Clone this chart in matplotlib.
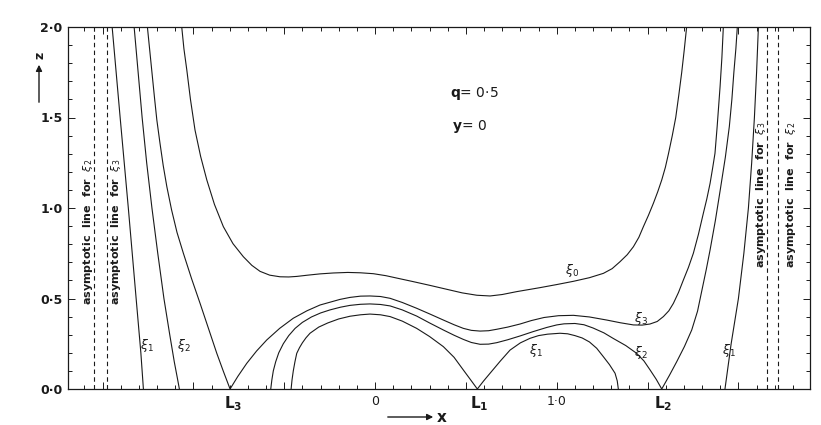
import matplotlib
matplotlib.use('Agg')
import matplotlib.pyplot as plt
from matplotlib.ticker import FixedLocator, FixedFormatter, MultipleLocator

# ---------------- data ----------------
# xi_0 : U-shaped curve
xi0_x = [-1.064, -1.052, -1.036, -1.016, -0.991, -0.960, -0.926, -0.884, -0.835, -0.782,
         -0.725, -0.678, -0.633, -0.580, -0.523, -0.475, -0.431, -0.370, -0.303, -0.230,
         -0.150, -0.080, -0.009, 0.060, 0.119, 0.211, 0.300, 0.394, 0.480, 0.560,
         0.633, 0.700, 0.780, 0.850, 0.908, 1.000, 1.092, 1.180, 1.257, 1.305,
         1.348, 1.388, 1.422, 1.452, 1.477, 1.505, 1.532, 1.556, 1.578, 1.598,
         1.615, 1.636, 1.655, 1.672, 1.688, 1.702, 1.715]
xi0_z = [2.000, 1.880, 1.762, 1.600, 1.431, 1.285, 1.155, 1.020, 0.897, 0.803,
         0.731, 0.683, 0.650, 0.629, 0.620, 0.619, 0.622, 0.629, 0.636, 0.641,
         0.644, 0.642, 0.637, 0.626, 0.613, 0.593, 0.573, 0.551, 0.531, 0.518,
         0.514, 0.522, 0.538, 0.550, 0.560, 0.577, 0.595, 0.615, 0.639, 0.665,
         0.703, 0.742, 0.786, 0.838, 0.897, 0.960, 1.026, 1.090, 1.155, 1.225,
         1.300, 1.400, 1.500, 1.625, 1.750, 1.875, 2.000]

# xi_3 : passes through L3, dips near L1, rises to the right
xi3_x = [-1.253, -1.240, -1.227, -1.214, -1.201, -1.184, -1.166, -1.146, -1.120, -1.090,
         -1.055, -1.010, -0.963, -0.917, -0.871, -0.835, -0.798,
         -0.755, -0.706, -0.652, -0.596, -0.525, -0.450, -0.375, -0.303, -0.193,
         -0.138, -0.080, -0.028, 0.030, 0.083, 0.150, 0.229, 0.300, 0.376, 0.435,
         0.486, 0.530, 0.578, 0.625, 0.670, 0.730, 0.798, 0.860, 0.930, 1.010,
         1.092, 1.180, 1.275, 1.350, 1.422, 1.470, 1.513, 1.553, 1.587, 1.617,
         1.642, 1.670, 1.697, 1.725, 1.752, 1.780, 1.807, 1.826, 1.844, 1.858,
         1.871, 1.883, 1.899, 1.909, 1.917]
xi3_z = [2.000, 1.870, 1.740, 1.610, 1.486, 1.360, 1.235, 1.118, 0.990, 0.865,
         0.750, 0.610, 0.473, 0.335, 0.197, 0.098, 0.000,
         0.070, 0.142, 0.210, 0.271, 0.335, 0.391, 0.432, 0.464, 0.495,
         0.506, 0.513, 0.514, 0.511, 0.501, 0.478, 0.446, 0.415, 0.381, 0.355,
         0.335, 0.324, 0.320, 0.322, 0.330, 0.342, 0.359, 0.378, 0.395, 0.405,
         0.407, 0.398, 0.381, 0.366, 0.354, 0.353, 0.359, 0.373, 0.400, 0.432,
         0.473, 0.533, 0.602, 0.672, 0.750, 0.855, 0.971, 1.050, 1.136, 1.220,
         1.302, 1.450, 1.670, 1.830, 2.000]

# xi_2 : left branch and the branch through L2
xi2_left_x = [-1.326, -1.304, -1.282, -1.257, -1.228, -1.196, -1.162, -1.130, -1.105,
              -1.088, -1.077]
xi2_left_z = [2.000, 1.750, 1.500, 1.250, 1.000, 0.750, 0.500, 0.300, 0.150,
              0.060, 0.000]
xi2_x = [-0.574, -0.568, -0.560, -0.547, -0.530, -0.505, -0.475, -0.440, -0.400, -0.350,
         -0.300, -0.248, -0.190, -0.138, -0.080, -0.028, 0.030, 0.083, 0.150, 0.229,
         0.300, 0.376, 0.435, 0.486, 0.530, 0.578, 0.625, 0.670, 0.730, 0.798,
         0.870, 0.945, 1.000, 1.040, 1.100, 1.150, 1.200, 1.260, 1.310, 1.380,
         1.440, 1.480, 1.514, 1.548, 1.578,
         1.620, 1.660, 1.703, 1.743, 1.775, 1.800, 1.823, 1.844, 1.873, 1.900,
         1.928, 1.950, 1.964, 1.975, 1.986, 1.994]
xi2_z = [0.000, 0.050, 0.100, 0.150, 0.200, 0.250, 0.295, 0.335, 0.368, 0.398,
         0.420, 0.437, 0.452, 0.462, 0.468, 0.470, 0.467, 0.459, 0.437, 0.403,
         0.365, 0.326, 0.297, 0.274, 0.257, 0.247, 0.248, 0.256, 0.272, 0.293,
         0.317, 0.340, 0.354, 0.360, 0.362, 0.355, 0.337, 0.310, 0.280, 0.240,
         0.197, 0.155, 0.105, 0.053, 0.000,
         0.075, 0.150, 0.235, 0.326, 0.430, 0.550, 0.660, 0.768, 0.930, 1.100,
         1.280, 1.450, 1.600, 1.750, 1.880, 2.000]

# xi_1 : left branch, the loop through L1, right branch
xi1_left_x = [-1.447, -1.403, -1.358, -1.315, -1.289, -1.275]
xi1_left_z = [2.000, 1.500, 1.000, 0.500, 0.200, 0.000]
xi1_x = [-0.462, -0.457, -0.450, -0.441, -0.431, -0.416, -0.400, -0.380, -0.358, -0.310,
         -0.260, -0.200, -0.138, -0.080, -0.028, 0.030, 0.083, 0.150, 0.229, 0.300,
         0.376, 0.435, 0.486, 0.525, 0.563,
         0.598, 0.633, 0.690, 0.743, 0.800, 0.853, 0.900, 0.950, 1.018, 1.060,
         1.100, 1.140, 1.180, 1.220, 1.257, 1.290, 1.321, 1.333, 1.339]
xi1_z = [0.000, 0.050, 0.100, 0.150, 0.197, 0.228, 0.255, 0.283, 0.308, 0.342,
         0.365, 0.387, 0.402, 0.410, 0.414, 0.410, 0.400, 0.375, 0.335, 0.290,
         0.234, 0.175, 0.105, 0.052, 0.000,
         0.045, 0.087, 0.155, 0.215, 0.255, 0.280, 0.295, 0.303, 0.308, 0.305,
         0.295, 0.282, 0.260, 0.225, 0.178, 0.135, 0.087, 0.045, 0.000]
xi1_right_x = [1.926, 1.960, 2.000, 2.030, 2.055, 2.073, 2.088, 2.100, 2.110]
xi1_right_z = [0.000, 0.250, 0.500, 0.750, 1.000, 1.250, 1.500, 1.750, 2.000]

# asymptotic lines
asym_x = [-1.545, -1.477, 2.156, 2.216]
asym_names = [r'$\xi_2$', r'$\xi_3$', r'$\xi_3$', r'$\xi_2$']

# Lagrangian points
L_names = [r'$\mathbf{L_3}$', r'$\mathbf{L_1}$', r'$\mathbf{L_2}$']
L_x = [-0.794, 0.563, 1.572]

# ticks
xtick_pos = [-1.5, -1.0, -0.5, 0.0, 0.5, 1.0, 1.5, 2.0]
xtick_labels = ['', '', '', '0', '', '1·0', '', '']
ytick_pos = [0.0, 0.5, 1.0, 1.5, 2.0]
ytick_labels = ['0·0', '0·5', '1·0', '1·5', '2·0']

# curve labels
lab_text = [r'$\xi_1$', r'$\xi_2$', r'$\xi_0$', r'$\xi_3$', r'$\xi_2$', r'$\xi_1$', r'$\xi_1$']
lab_x = [-1.255, -1.051, 1.084, 1.464, 1.464, 0.886, 1.948]
lab_z = [0.238, 0.238, 0.657, 0.392, 0.204, 0.215, 0.210]

# ---------------- figure ----------------
W, H = 821, 425
fig = plt.figure(figsize=(W / 100, H / 100), dpi=100)
ax = fig.add_axes([68 / W, 36 / H, 742 / W, 362 / H])
ax.set_xlim(-1.690, 2.394)
ax.set_ylim(0, 2)

col = '#1a1a1a'
lw = 0.8
for xs, zs in [(xi0_x, xi0_z), (xi3_x, xi3_z), (xi2_left_x, xi2_left_z), (xi2_x, xi2_z),
               (xi1_left_x, xi1_left_z), (xi1_x, xi1_z), (xi1_right_x, xi1_right_z)]:
    ax.plot(xs, zs, color=col, lw=lw, solid_joinstyle='round')

for xa in asym_x:
    ax.plot([xa, xa], [0, 2], color=col, lw=0.8, ls=(0, (4, 3)))

# asymptote texts
asym_text_x = [-1.580, -1.425, 2.124, 2.289]
asym_text_z = [0.464, 0.464, 0.669, 0.669]
for xt, zt, nm in zip(asym_text_x, asym_text_z, asym_names):
    ax.text(xt, zt, 'asymptotic  line  for  ' + nm, rotation=90, ha='center', va='bottom',
            fontsize=8, fontweight='bold', color=col)

for t, x, z in zip(lab_text, lab_x, lab_z):
    ax.text(x, z, t, ha='center', va='center', fontsize=9, color=col)

for nm, x in zip(L_names, L_x):
    ax.text(x + 0.012, -0.083, nm, ha='center', va='center', fontsize=11, color=col,
            clip_on=False)

ax.text(0.413, 1.63, r'$\mathbf{q}$= 0·5', ha='left', va='center', fontsize=10, color=col)
ax.text(0.424, 1.448, r'$\mathbf{y}$= 0', ha='left', va='center', fontsize=10, color=col)

# ticks
ax.xaxis.set_major_locator(FixedLocator(xtick_pos))
ax.xaxis.set_major_formatter(FixedFormatter(xtick_labels))
ax.xaxis.set_minor_locator(MultipleLocator(0.1))
ax.yaxis.set_major_locator(FixedLocator(ytick_pos))
ax.yaxis.set_major_formatter(FixedFormatter(ytick_labels))
ax.yaxis.set_minor_locator(MultipleLocator(0.1))
ax.tick_params(which='both', direction='in', top=True, right=True, width=0.7, color=col)
ax.tick_params(which='major', length=5)
ax.tick_params(which='minor', length=3)
ax.tick_params(axis='x', labelsize=9, pad=4, labelcolor=col)
ax.tick_params(axis='y', labelsize=9, pad=4, labelcolor=col)
for lab in ax.get_yticklabels():
    lab.set_fontweight('bold')
for sp in ax.spines.values():
    sp.set_linewidth(0.9)
    sp.set_color(col)

# axis arrows
ax.annotate('', xy=(436, H - 417), xytext=(385, H - 417), xycoords='figure pixels',
            textcoords='figure pixels',
            arrowprops=dict(arrowstyle='-|>', color=col, lw=1.0, mutation_scale=9))
fig.text(442 / W, (H - 417) / H, 'x', ha='center', va='center', fontsize=11,
         fontweight='bold', color=col)
ax.annotate('', xy=(39, H - 62), xytext=(39, H - 105), xycoords='figure pixels',
            textcoords='figure pixels',
            arrowprops=dict(arrowstyle='-|>', color=col, lw=1.0, mutation_scale=9))
fig.text(40 / W, (H - 55) / H, 'z', rotation=90, ha='center', va='center', fontsize=9,
         fontweight='bold', color=col)

fig.savefig('out.png', dpi=100)
